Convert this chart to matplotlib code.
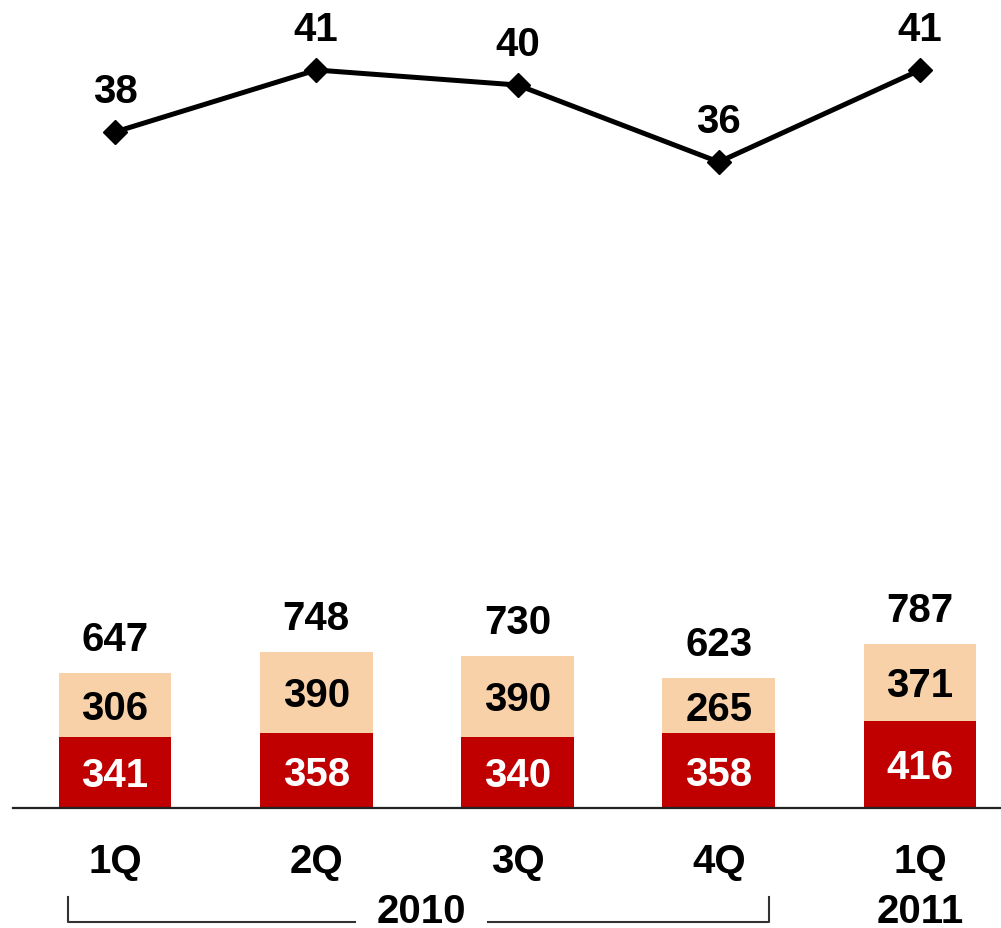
import matplotlib
matplotlib.use('Agg')
import matplotlib.pyplot as plt

plt.rcParams['font.family'] = ['Liberation Sans', 'DejaVu Sans']
plt.rcParams['font.weight'] = 'bold'

# data
quarters = ['1Q', '2Q', '3Q', '4Q', '1Q']
lower = [341, 358, 340, 358, 416]
upper = [306, 390, 390, 265, 371]
totals = [647, 748, 730, 623, 787]
line_vals = [37.9, 41.0, 40.25, 36.4, 41.0]
line_labels = ['38', '41', '40', '36', '41']

RED = '#C00000'
PEACH = '#F9D1A9'
W, H = 1001, 929

fig = plt.figure(figsize=(W / 100, H / 100), dpi=100)
ax = fig.add_axes([0, 0, 1, 1])
ax.set_xlim(-0.571, 4.402)
ax.set_ylim(-575, 3876)
ax.axis('off')

x = list(range(len(quarters)))
ax.bar(x, lower, width=0.56, color=RED, zorder=2)
ax.bar(x, upper, width=0.56, bottom=lower, color=PEACH, zorder=2)

# baseline
ax.plot([-0.505, 4.402], [0, 0], color='#222222', lw=1.6, zorder=3, clip_on=False)

fs = 29
for i in x:
    ax.annotate(str(lower[i]), (i, lower[i] / 2), xytext=(0, -10), textcoords='offset points',
                ha='center', va='baseline', fontsize=fs, color='white', fontweight='bold')
    ax.annotate(str(upper[i]), (i, lower[i] + upper[i] / 2), xytext=(0, -10),
                textcoords='offset points', ha='center', va='baseline', fontsize=fs,
                color='black', fontweight='bold')
    ax.annotate(str(totals[i]), (i, totals[i]), xytext=(0, 16.5), textcoords='offset points',
                ha='center', va='baseline', fontsize=fs, color='black', fontweight='bold')

# category labels and year row
xt = ax.get_xaxis_transform()
for i, q in enumerate(quarters):
    ax.text(i, (H - 873) / H, q, transform=xt, ha='center', va='baseline',
            fontsize=fs, fontweight='bold')
ax.text(1.52, (H - 923) / H, '2010', transform=xt, ha='center', va='baseline',
        fontsize=fs, fontweight='bold')
ax.text(4, (H - 923) / H, '2011', transform=xt, ha='center', va='baseline',
        fontsize=fs, fontweight='bold')

# bracket under 2010
yb_top, yb_bot = (H - 898) / H, (H - 923) / H
bk = dict(color='#333333', lw=1.5, transform=xt, clip_on=False)
ax.plot([-0.234, -0.234, 1.193], [yb_top, yb_bot, yb_bot], **bk)
ax.plot([1.854, 3.25, 3.25], [yb_bot, yb_bot, yb_top], **bk)

# line series on its own scale
ax2 = ax.twinx()
ax2.set_ylim(-1.9, 44.55)
ax2.axis('off')
ax2.plot(x, line_vals, color='black', lw=3.6, marker='D', markersize=12.5, zorder=4)
for i in x:
    ax2.annotate(line_labels[i], (i, line_vals[i]), xytext=(0, 21.6), textcoords='offset points',
                 ha='center', va='baseline', fontsize=fs, fontweight='bold')

fig.savefig('out.png', dpi=100)
